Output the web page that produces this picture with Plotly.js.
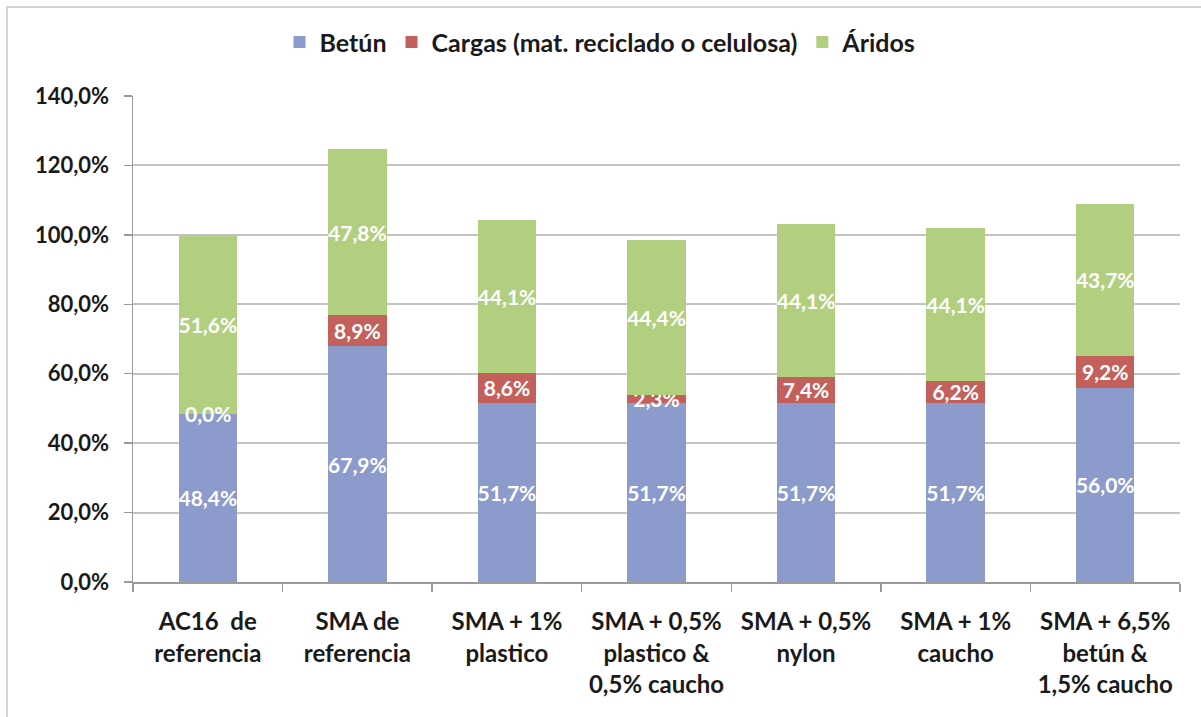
<!DOCTYPE html>
<html>
<head>
<meta charset="utf-8">
<script src="https://cdn.plot.ly/plotly-3.0.1.min.js"></script>
<style>
  html, body { margin: 0; padding: 0; background: #ffffff; overflow: hidden; }
  #frame { position: absolute; left: 6px; top: 6px; width: 1300px; height: 800px; border: 2px solid #d4d4d4; }
  #chart { position: absolute; left: 0; top: 0; width: 1201px; height: 717px; }
</style>
</head>
<body>
<div id="frame"></div>
<div id="chart"></div>
<script>
const categories = [
  "AC16  de<br>referencia",
  "SMA de<br>referencia",
  "SMA + 1%<br>plastico",
  "SMA + 0,5%<br>plastico &<br>0,5% caucho",
  "SMA + 0,5%<br>nylon",
  "SMA + 1%<br>caucho",
  "SMA + 6,5%<br>betún &<br>1,5% caucho"
];
const betun  = [48.4, 67.9, 51.7, 51.7, 51.7, 51.7, 56.0];
const cargas = [0.0, 8.9, 8.6, 2.3, 7.4, 6.2, 9.2];
const aridos = [51.6, 47.8, 44.1, 44.4, 44.1, 44.1, 43.7];
const seriesNames = ["Betún", "Cargas (mat. reciclado o celulosa)", "Áridos"];
const yTicks = [0, 20, 40, 60, 80, 100, 120, 140];

const colors = ["#8c9bcb", "#c4605c", "#b2cf80"];
const FONT = "Lato, 'Open Sans', sans-serif";
const fmt = v => v.toFixed(1).replace('.', ',') + '%';

const seriesData = [betun, cargas, aridos];
const traces = seriesData.map((vals, k) => ({
  type: 'bar',
  name: seriesNames[k],
  x: categories,
  y: vals,
  marker: { color: colors[k] },
  text: vals.map(fmt),
  textposition: 'inside',
  insidetextanchor: 'middle',
  constraintext: 'none',
  textangle: 0,
  textfont: { family: FONT, size: 21, color: '#ffffff', weight: 'bold' },
  hoverinfo: 'none'
}));

// zero-height segments cannot carry bar text; label them at their stack position
const annotations = [];
seriesData.forEach((vals, k) => {
  vals.forEach((v, i) => {
    if (v === 0) {
      let base = 0;
      for (let j = 0; j < k; j++) base += seriesData[j][i];
      annotations.push({
        x: categories[i], y: base + v / 2, xref: 'x', yref: 'y',
        text: fmt(v), showarrow: false,
        font: { family: FONT, size: 21, color: '#ffffff', weight: 'bold' }
      });
    }
  });
});

const layout = {
  width: 1201, height: 717,
  paper_bgcolor: 'rgba(0,0,0,0)',
  plot_bgcolor: 'rgba(0,0,0,0)',
  barmode: 'stack',
  bargap: 0.61,
  separators: ',.',
  margin: { l: 133, r: 21, t: 96, b: 135 },
  font: { family: FONT, color: '#1a1a1a' },
  showlegend: true,
  legend: {
    orientation: 'h', x: 0.5, xanchor: 'center', y: 0.941, yanchor: 'middle',
    yref: 'container', xref: 'container',
    font: { family: FONT, size: 25, color: '#1a1a1a', weight: 'bold' },
    itemwidth: 30, traceorder: 'normal'
  },
  xaxis: {
    type: 'category',
    tickson: 'boundaries',
    ticks: 'outside', ticklen: 8, tickcolor: '#9a9a9a', tickwidth: 1.5,
    showline: true, linecolor: '#9a9a9a', linewidth: 1.5,
    showgrid: false,
    ticklabelstandoff: 18,
    tickfont: { family: FONT, size: 24, color: '#1a1a1a', weight: 'bold' },
    fixedrange: true
  },
  yaxis: {
    range: [0, 140],
    tickmode: 'array',
    tickvals: yTicks,
    ticktext: yTicks.map(fmt),
    ticks: 'outside', ticklen: 8, tickcolor: '#9a9a9a', tickwidth: 1.5,
    showline: true, linecolor: '#9a9a9a', linewidth: 1.5,
    showgrid: true, gridcolor: '#c4c4c4', gridwidth: 2,
    zeroline: false,
    ticklabelstandoff: 10,
    tickfont: { family: FONT, size: 22, color: '#1a1a1a', weight: 'bold' },
    fixedrange: true
  },
  annotations: annotations
};

Plotly.newPlot('chart', traces, layout, { staticPlot: true, displayModeBar: false });
</script>
</body>
</html>
